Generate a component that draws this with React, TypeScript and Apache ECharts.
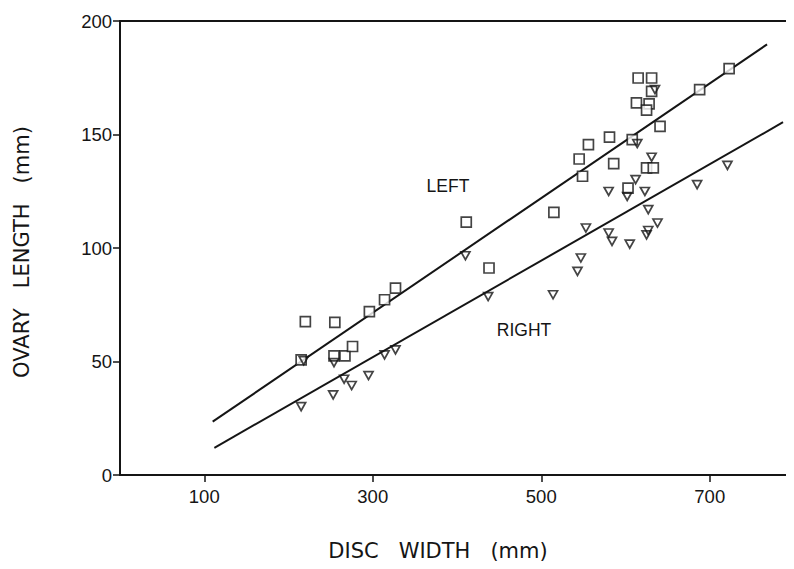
import React, { useEffect, useRef } from "react";
import * as echarts from "echarts";

// Disc width (mm) vs ovary length (mm)
const leftPoints: [number, number][] = [
  [220, 67.6], [255, 67.2], [215, 50.7], [254, 52.5], [267, 52.5], [276, 56.6],
  [296, 72.0], [314, 77.2], [327, 82.3], [411, 111.4], [438, 91.2], [515, 115.7],
  [545, 139.2], [549, 131.6], [556, 145.5], [581, 148.8], [586, 137.2], [608, 147.7],
  [603, 126.4], [613, 163.9], [615, 174.9], [631, 174.9], [631, 169.0], [628, 163.5],
  [625, 160.7], [641, 153.6], [625, 135.3], [633, 135.3], [688, 169.8], [723, 179.0],
];
const rightPoints: [number, number][] = [
  [215, 30.1], [253, 35.3], [266, 42.2], [275, 39.4], [295, 43.8], [314, 52.9],
  [327, 55.1], [218, 50.4], [254, 49.5], [410, 96.6], [437, 78.6], [514, 79.4],
  [543, 89.7], [547, 95.6], [553, 108.8], [580, 124.9], [580, 106.6], [584, 102.9],
  [605, 101.7], [602, 122.7], [612, 130.1], [623, 124.9], [627, 116.9], [627, 107.7],
  [625, 105.8], [638, 111.0], [614, 146.0], [631, 140.0], [635, 169.8], [685, 127.9],
  [721, 136.4],
];
const leftLine: [number, number][] = [[110, 23.5], [768, 189.7]];
const rightLine: [number, number][] = [[112, 12.0], [787, 155.4]];
const xTicks = [100, 300, 500, 700];
const yTicks = [0, 50, 100, 150, 200];

const FONT = "'Liberation Sans', Arial, sans-serif";
const TITLE_FONT = "'DejaVu Sans', 'Liberation Sans', sans-serif";
const INK = "#151515";
const GAP = "\u00a0\u00a0\u00a0";

export default function App() {
  const ref = useRef<HTMLDivElement>(null);
  useEffect(() => {
    if (!ref.current) return;
    const chart = echarts.init(ref.current, undefined, { renderer: "svg" });
    chart.setOption({
      animation: false,
      backgroundColor: "#ffffff",
      grid: { left: 120, right: -6, top: 21, bottom: 94, containLabel: false },
      xAxis: [
        {
          type: "value",
          min: 0,
          max: 800,
          splitLine: { show: false },
          axisLine: { show: true, lineStyle: { color: INK, width: 2 } },
          axisTick: {
            show: true,
            length: 7,
            customValues: xTicks,
            lineStyle: { color: INK, width: 1.5 },
          },
          axisLabel: {
            customValues: xTicks,
            color: INK,
            fontFamily: FONT,
            fontSize: 18.5,
            margin: 12,
          },
        },
        {
          type: "value",
          position: "top",
          min: 0,
          max: 800,
          splitLine: { show: false },
          axisLine: { show: true, lineStyle: { color: INK, width: 2 } },
          axisTick: { show: false },
          axisLabel: { show: false },
        },
      ],
      yAxis: {
        type: "value",
        min: 0,
        max: 200,
        interval: 50,
        splitLine: { show: false },
        axisLine: { show: true, lineStyle: { color: INK, width: 2 } },
        axisTick: { show: true, length: 7, lineStyle: { color: INK, width: 1.5 } },
        axisLabel: {
          color: INK,
          fontFamily: FONT,
          fontSize: 18.5,
          margin: 8,
          formatter: (v: number) => (yTicks.includes(v) ? String(v) : ""),
        },
      },
      series: [
        {
          type: "line",
          data: leftLine,
          symbol: "none",
          lineStyle: { color: INK, width: 2 },
          z: 1,
        },
        {
          type: "line",
          data: rightLine,
          symbol: "none",
          lineStyle: { color: INK, width: 2 },
          z: 1,
        },
        {
          type: "scatter",
          data: leftPoints,
          symbol: "rect",
          symbolSize: 10,
          itemStyle: { color: "#ffffff", borderColor: INK, borderWidth: 1.7 },
          z: 3,
        },
        {
          type: "scatter",
          data: rightPoints,
          symbol: "triangle",
          symbolRotate: 180,
          symbolSize: [9, 8],
          itemStyle: { color: "rgba(255,255,255,0)", borderColor: INK, borderWidth: 1.7 },
          z: 4,
        },
      ],
      graphic: [
        {
          type: "text",
          x: 448,
          y: 186,
          style: {
            text: "LEFT",
            fill: INK,
            font: `17.5px ${FONT}`,
            align: "center",
            verticalAlign: "middle",
          },
        },
        {
          type: "text",
          x: 524,
          y: 330,
          style: {
            text: "RIGHT",
            fill: INK,
            font: `17.5px ${FONT}`,
            align: "center",
            verticalAlign: "middle",
          },
        },
        {
          type: "text",
          x: 438,
          y: 551,
          style: {
            text: `DISC${GAP}WIDTH${GAP}(mm)`,
            fill: INK,
            font: `21px ${TITLE_FONT}`,
            align: "center",
            verticalAlign: "middle",
          },
        },
        {
          type: "text",
          x: 22,
          y: 252,
          rotation: Math.PI / 2,
          style: {
            text: `OVARY${GAP}LENGTH${GAP}(mm)`,
            fill: INK,
            font: `21px ${TITLE_FONT}`,
            align: "center",
            verticalAlign: "middle",
          },
        },
      ],
    });
    return () => chart.dispose();
  }, []);
  return <div ref={ref} style={{ width: 794, height: 569, margin: -8 }} />;
}
